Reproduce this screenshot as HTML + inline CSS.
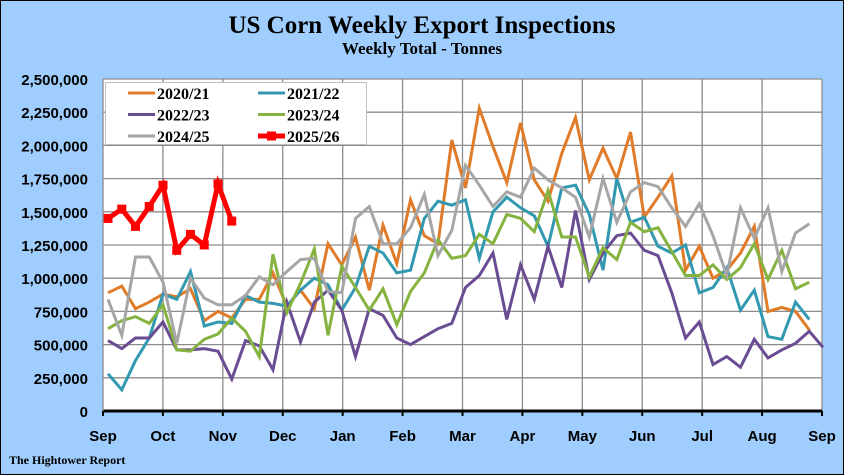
<!DOCTYPE html>
<html><head><meta charset="utf-8"><style>
html,body{margin:0;padding:0;}
body{width:844px;height:475px;overflow:hidden;background:#fff;}
#wrap{position:absolute;left:0;top:0;width:842px;height:473px;border:1px solid #000;background:#9fcdfd;}
svg{position:absolute;left:0;top:0;}
text{font-family:"Liberation Sans",sans-serif;}
.serif{font-family:"Liberation Serif",serif;font-weight:bold;}
</style></head><body>
<div id="wrap"></div>
<svg id="chart" width="844" height="475">
<text class="serif" x="422" y="33" text-anchor="middle" font-size="25" fill="#000">US Corn Weekly Export Inspections</text>
<text class="serif" x="422" y="54" text-anchor="middle" font-size="17" fill="#000">Weekly Total - Tonnes</text>
<text class="serif" x="9" y="464" font-size="12" fill="#000">The Hightower Report</text>
<rect x="103" y="79" width="719" height="332" fill="#fff"/>
<g id="grid"></g>
<g id="series"></g>
<g id="axes"></g>
<g id="legend"></g>
</svg>
<script>
const yTicks = [0,250000,500000,750000,1000000,1250000,1500000,1750000,2000000,2250000,2500000];
const months = ["Sep","Oct","Nov","Dec","Jan","Feb","Mar","Apr","May","Jun","Jul","Aug","Sep"];
const seriesNames = ["2020/21","2021/22","2022/23","2023/24","2024/25","2025/26"];
const s2020 = [0.89,0.94,0.77,0.82,0.88,0.86,0.92,0.68,0.75,0.70,0.84,0.84,1.04,0.79,0.91,0.77,1.26,1.10,1.31,0.91,1.40,1.11,1.59,1.32,1.26,2.04,1.68,2.28,1.99,1.72,2.17,1.74,1.58,1.94,2.21,1.74,1.98,1.75,2.10,1.46,1.61,1.77,1.06,1.24,1.00,1.06,1.19,1.39,0.75,0.78,0.75,0.61];
const s2021 = [0.28,0.16,0.38,0.55,0.88,0.84,1.05,0.64,0.67,0.66,0.87,0.82,0.81,0.79,0.91,1.00,0.95,0.76,0.93,1.24,1.19,1.04,1.06,1.45,1.58,1.55,1.59,1.15,1.50,1.61,1.53,1.47,1.24,1.68,1.70,1.48,1.06,1.75,1.42,1.46,1.24,1.19,1.25,0.89,0.93,1.08,0.76,0.91,0.56,0.54,0.82,0.69];
const s2022 = [0.53,0.47,0.55,0.55,0.67,0.46,0.46,0.47,0.45,0.24,0.53,0.49,0.31,0.82,0.52,0.82,0.91,0.76,0.41,0.77,0.72,0.55,0.50,0.56,0.62,0.66,0.93,1.02,1.19,0.69,1.10,0.84,1.24,0.93,1.51,0.99,1.19,1.32,1.34,1.21,1.17,0.89,0.55,0.67,0.35,0.41,0.33,0.54,0.40,0.46,0.51,0.60,0.48];
const s2023 = [0.62,0.68,0.71,0.66,0.80,0.46,0.45,0.54,0.58,0.70,0.60,0.41,1.18,0.74,0.96,1.22,0.57,1.09,0.93,0.76,0.92,0.65,0.90,1.04,1.29,1.15,1.17,1.33,1.26,1.48,1.45,1.35,1.66,1.31,1.31,1.01,1.23,1.14,1.42,1.35,1.38,1.20,1.02,1.02,1.10,0.99,1.08,1.26,0.99,1.21,0.92,0.97];
const s2024 = [0.84,0.57,1.16,1.16,0.97,0.51,1.00,0.85,0.80,0.80,0.87,1.01,0.95,1.05,1.14,1.15,0.90,0.89,1.45,1.54,1.26,1.26,1.38,1.63,1.17,1.36,1.85,1.70,1.54,1.65,1.61,1.83,1.74,1.68,1.61,1.31,1.75,1.42,1.65,1.72,1.69,1.53,1.39,1.56,1.32,1.02,1.53,1.30,1.53,1.05,1.34,1.41];
const s2025 = [1.45,1.52,1.39,1.54,1.70,1.21,1.33,1.25,1.71,1.43];
const seriesColors = ["#e07b2a","#3399b0","#6a4c93","#86b340","#a6a6a6","#ff0000"];
const allSeries = [s2020,s2021,s2022,s2023,s2024,s2025];

const X0=103, X1=822, Y0=411, Y1=79, YMAX=2500000;
const ys = v => Y0 - v/YMAX*(Y0-Y1);
const xWeek = i => 108 + i*13.75;
const xMonth = m => X0 + m*(X1-X0)/12;
const NS="http://www.w3.org/2000/svg";
function mk(tag, attrs, parent){const e=document.createElementNS(NS,tag);for(const k in attrs)e.setAttribute(k,attrs[k]);parent.appendChild(e);return e;}
const grid=document.getElementById('grid'), axes=document.getElementById('axes'), ser=document.getElementById('series'), leg=document.getElementById('legend');

yTicks.forEach(t=>{
  const y=ys(t);
  if(t>0){const l=mk('line',{x1:X0,x2:X1,y1:y,y2:y,stroke:'#8c8c8c','stroke-width':1.3},grid);
  
  }
  const tx=mk('text',{x:88,y:y+6,'text-anchor':'end','font-size':15,'font-weight':'bold',fill:'#000'},axes);
  tx.textContent=t.toLocaleString('en-US');
  
  
});
months.forEach((m,i)=>{
  const x=xMonth(i);
  if(i>0){const l=mk('line',{x1:x,x2:x,y1:Y1,y2:Y0,stroke:'#8c8c8c','stroke-width':1.3},grid);
  
  }
  const tk=mk('line',{x1:x,x2:x,y1:Y0,y2:Y0+5,stroke:'#000','stroke-width':2},axes);
  
  
  const tx=mk('text',{x:x,y:Y0+30,'text-anchor':'middle','font-size':15,'font-weight':'bold',fill:'#000'},axes);
  tx.textContent=m;
  
  
});
const xa=mk('line',{x1:X0,x2:X1,y1:Y0,y2:Y0,stroke:'#000','stroke-width':3},axes);


const ya=mk('line',{x1:X0,x2:X0,y1:Y1,y2:Y0,stroke:'#8c8c8c','stroke-width':1.3},axes);



allSeries.forEach((s,k)=>{
  const pts=s.map((v,i)=>xWeek(i).toFixed(1)+','+ys(v*1e6).toFixed(1)).join(' ');
  const pl=mk('polyline',{points:pts,fill:'none',stroke:seriesColors[k],'stroke-width':k==5?5:3,'stroke-linejoin':'miter'},ser);
  
  
  if(k==5){s.forEach((v,i)=>{
    const r=mk('rect',{x:xWeek(i)-4.5,y:ys(v*1e6)-4.5,width:9,height:9,fill:'#ff0000'},ser);
    
    
  });}
});

const lb=mk('rect',{x:105.5,y:82.5,width:261,height:62,fill:'#fff',stroke:'#bfbfbf','stroke-width':1},leg);


seriesNames.forEach((n,k)=>{
  const col=k%2, row=Math.floor(k/2);
  const x=128+col*130, y=93+row*21.5;
  const l=mk('line',{x1:x,x2:x+27,y1:y,y2:y,stroke:seriesColors[k],'stroke-width':k==5?5:3},leg);
  
  
  if(k==5){const r=mk('rect',{x:x+9,y:y-4.5,width:9,height:9,fill:'#ff0000'},leg);
    
    }
  const t=mk('text',{x:x+29,y:y+6,'font-size':16,fill:'#000','class':'serif'},leg);
  t.textContent=n;
  
  
});
</script>
</body></html>
